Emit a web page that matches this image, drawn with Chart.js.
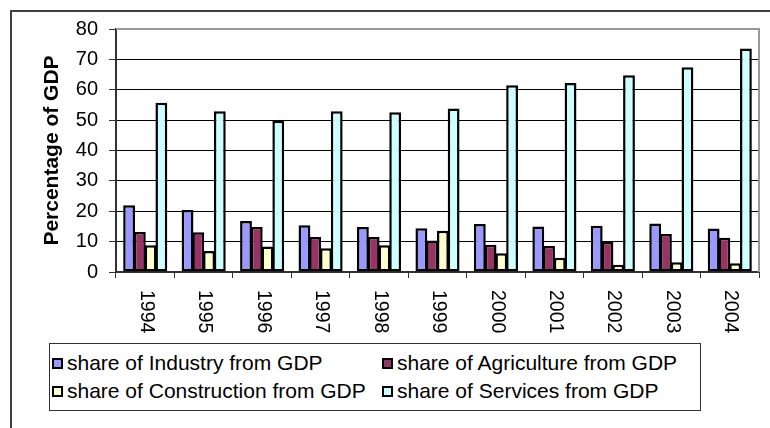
<!DOCTYPE html>
<html>
<head>
<meta charset="utf-8">
<script src="https://cdn.jsdelivr.net/npm/chart.js@4.4.0/dist/chart.umd.min.js"></script>
<style>
  html, body { margin: 0; padding: 0; background: #fff; }
  #wrap { position: relative; width: 770px; height: 428px; overflow: hidden; }
  #frame { position: absolute; left: 10px; top: 10px; width: 820px; height: 480px; border: 2px solid #404040; box-sizing: border-box; }
  #chart { position: absolute; left: 0; top: 0; }
  #legend { position: absolute; left: 49px; top: 343px; width: 652px; height: 68px; border: 1px solid #333;
            box-sizing: border-box; background: #fff; font-family: Arial, "Liberation Sans", sans-serif; font-size: 21px; color: #000; }
  .item { position: absolute; display: flex; align-items: center; white-space: nowrap; height: 24px; line-height: 24px; }
  .sw { width: 11px; height: 11px; border: 2px solid #000; box-sizing: border-box; margin-right: 4px; }
</style>
</head>
<body>
<div id="wrap">
  <div id="frame"></div>
  <canvas id="chart" width="770" height="428"></canvas>
  <div id="legend"></div>
</div>
<script>
// 資料
const years = ['1994', '1995', '1996', '1997', '1998', '1999', '2000', '2001', '2002', '2003', '2004'];
const industry = [22.0, 20.4, 16.8, 15.4, 14.8, 14.4, 15.8, 15.0, 15.2, 16.0, 14.3];
const agriculture = [13.2, 13.1, 14.8, 11.5, 11.5, 10.4, 9.0, 8.6, 9.9, 12.5, 11.3];
const construction = [8.8, 6.9, 8.4, 7.8, 8.8, 13.6, 6.2, 4.7, 2.4, 3.2, 2.9];
const services = [55.7, 52.9, 49.8, 52.9, 52.6, 53.8, 61.5, 62.2, 64.8, 67.4, 73.6];
const seriesNames = [
  'share of Industry from GDP',
  'share of Agriculture from GDP',
  'share of Construction from GDP',
  'share of Services from GDP'
];
const seriesColors = ['#9999ff', '#993366', '#ffffcc', '#ccffff'];

const FONT = 'Arial, "Liberation Sans", sans-serif';

// 年份標籤 (順時針旋轉)
const yearLabels = {
  id: 'yearLabels',
  afterDraw(chart) {
    const { ctx, chartArea } = chart;
    const x = chart.scales.x;
    ctx.save();
    ctx.font = '19.5px ' + FONT;
    ctx.fillStyle = '#000';
    ctx.textAlign = 'left';
    ctx.textBaseline = 'middle';
    years.forEach((yr, i) => {
      ctx.save();
      ctx.translate(x.getPixelForValue(i) + 1, chartArea.bottom + 18);
      ctx.rotate(Math.PI / 2);
      ctx.fillText(yr, 0, 0);
      ctx.restore();
    });
    ctx.restore();
  }
};

// 繪圖區外框
const plotBorder = {
  id: 'plotBorder',
  beforeDatasetsDraw(chart) {
    const { ctx, chartArea: a } = chart;
    ctx.save();
    ctx.strokeStyle = '#999';
    ctx.lineWidth = 2;
    ctx.beginPath();
    ctx.moveTo(a.left, a.top);
    ctx.lineTo(a.right, a.top);
    ctx.lineTo(a.right, a.bottom);
    ctx.stroke();
    ctx.restore();
  }
};

const datasets = [industry, agriculture, construction, services].map((data, i) => ({
  label: seriesNames[i],
  data,
  backgroundColor: seriesColors[i],
  borderColor: '#000',
  borderWidth: 2.5,
  borderSkipped: false,
  barPercentage: 1.1,
  categoryPercentage: 0.736
}));

const chart = new Chart(document.getElementById('chart'), {
  type: 'bar',
  data: { labels: years, datasets },
  options: {
    responsive: false,
    animation: false,
    layout: { padding: { left: 40, top: 29, right: 11, bottom: 0 } },
    plugins: {
      legend: { display: false },
      tooltip: { enabled: false }
    },
    scales: {
      x: {
        grid: { offset: true, drawOnChartArea: false, drawTicks: true, tickLength: 6, color: '#333', lineWidth: 1 },
        border: { display: true, color: '#333', width: 2 },
        ticks: { display: false },
        afterFit: s => { s.height = 156; }
      },
      y: {
        min: 0,
        max: 80,
        ticks: { stepSize: 10, color: '#000', padding: 11, font: { family: FONT, size: 20 } },
        grid: {
          color: c => (c.tick && c.tick.value === 80 ? 'rgba(0,0,0,0)' : '#000'),
          tickColor: '#333',
          tickLength: 7,
          lineWidth: 1
        },
        border: { display: true, color: '#333', width: 2 },
        title: {
          display: true,
          text: 'Percentage of GDP',
          color: '#000',
          padding: { top: 0, bottom: 0 },
          font: { family: FONT, size: 21, weight: 'bold' }
        },
        afterFit: s => { s.width = 76; }
      }
    }
  },
  plugins: [plotBorder, yearLabels]
});

// 圖例
const legendEl = document.getElementById('legend');
const slots = [[2, 7], [332, 7], [2, 35], [332, 35]];
chart.data.datasets.forEach((ds, i) => {
  const item = document.createElement('div');
  item.className = 'item';
  item.style.left = slots[i][0] + 'px';
  item.style.top = slots[i][1] + 'px';
  const sw = document.createElement('span');
  sw.className = 'sw';
  sw.style.background = ds.backgroundColor;
  const txt = document.createElement('span');
  txt.textContent = ds.label;
  item.appendChild(sw);
  item.appendChild(txt);
  legendEl.appendChild(item);
});
</script>
</body>
</html>
